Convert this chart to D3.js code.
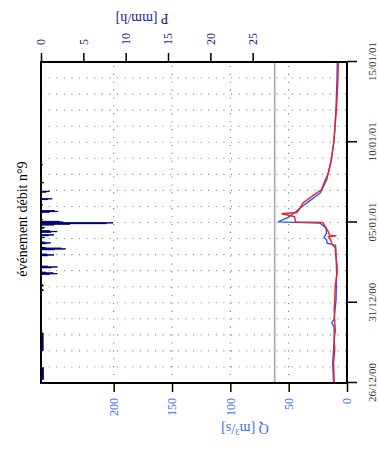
<!DOCTYPE html>
<html><head><meta charset="utf-8">
<script src="https://cdn.jsdelivr.net/npm/d3@7/dist/d3.min.js"></script>
<style>html,body{margin:0;padding:0;background:#fff;} svg{display:block}</style>
</head><body>
<svg id="c" width="378" height="454"></svg>
<script>
// ---------- data ----------
const titleText = "événement débit n°9";
const startDate = new Date(2000, 11, 26);
const endDate = new Date(2001, 0, 15);
const dateTickLabels = ["26/12/00", "31/12/00", "05/01/01", "10/01/01", "15/01/01"];
const qTicks = [0, 50, 100, 150, 200];
const pTicks = [0, 5, 10, 15, 20, 25];
const qMax = 262.3;
const pMax = 36.14;
const qThreshold = 62;

// rainfall (hours since 26/12/00 00:00, mm/h)
const pHours = [5,6,7,8,9,10,11,12,13,14,15,16,17,18,19,20,21,22,
  48,49,50,51,52,53,54,55,56,57,58,59,60,61,62,63,64,65,66,67,68,69,70,71,72,73,74,
  138,139,145,146,162,163,164,165,172,173,174,190,191,192,199,200,201,202,
  208,209,210,217,220,221,225,226,227,231,232,236,237,238,239,240,241,244,
  255,256,257,266,274,275,285,286,299,326];
const pValues = [0.3,0.3,0.3,0.3,0.3,0.3,0.3,0.3,0.3,0.3,0.3,0.3,0.3,0.3,0.3,0.3,0.3,0.3,
  0.25,0.25,0.25,0.25,0.25,0.25,0.25,0.25,0.25,0.25,0.25,0.25,0.25,0.25,0.25,0.25,0.25,0.25,0.25,0.25,0.25,0.25,0.25,0.25,0.25,0.25,0.25,
  0.3,0.2,0.3,0.2,1.0,1.9,1.4,0.6,1.2,1.9,0.8,0.8,1.5,0.7,1.6,2.9,2.4,0.5,
  0.6,1.1,0.4,0.4,0.9,1.5,1.2,1.9,1.0,0.3,0.4,1.5,3.4,7.7,8.5,2.6,2.2,0.2,
  1.0,2.0,1.6,0.2,0.8,1.3,0.6,1.0,0.3,0.2];

// observed discharge (hours, m3/s)
const qObsHours = [0,30,64,84,90,96,124,164,194,206,209,214,218,224,232,236,239,241,248,256,266,275,284,304,314,333,363,413,453,480];
const qObsValues = [11.5,12.3,11,11,13,11,9.4,8.9,9.4,9.8,17,17.5,19.7,17.5,18,21,23,59,50,44,37,30,23,17.4,16,13.5,11.1,9.4,8.6,8.3];

// simulated discharge (hours, m3/s)
const qSimHours = [0,30,50,64,79,91,109,124,147,164,176,191,202,208,214,219,220,221,226,232,238,240,241,249,253,255,262,269,278,289,304,314,333,363,413,453,480];
const qSimValues = [11,11.5,10.5,11,10,10.5,11,10.5,10,8.5,8.5,9.7,10,13,14,16,9,15,16,18,20,21,44,45,56,43,40,38,31,22,18.5,16,13.5,11.1,8.9,7.8,7.4];

// ---------- drawing ----------
const W = 378, H = 454;
const serif = "'Liberation Serif','Times New Roman',serif";
const svg = d3.select("#c");
// whole chart drawn in its original orientation, then rotated -90deg
const g = svg.append("g").attr("transform", `translate(0,${H}) rotate(-90)`);
const pl = 71, pr = 392, pt = 41, pb = 347;

const hourToDate = h => new Date(startDate.getTime() + h * 3600e3);
const x = d3.scaleTime().domain([startDate, endDate]).range([pl, pr]);
const yQ = d3.scaleLinear().domain([0, qMax]).range([pb, pt]);
const yP = d3.scaleLinear().domain([0, pMax]).range([pt, pb]);

// daily grid
const days = d3.timeDay.range(d3.timeDay.offset(startDate, 1), endDate);
g.append("g").selectAll("line").data(days).join("line")
  .attr("x1", d => x(d)).attr("x2", d => x(d))
  .attr("y1", pt).attr("y2", pb)
  .attr("stroke", "#8a8a8a").attr("stroke-width", 1.1)
  .attr("stroke-dasharray", "1.1,6.5");

// Q grid
g.append("g").selectAll("line").data(qTicks.filter(q => q > 0)).join("line")
  .attr("x1", pl).attr("x2", pr)
  .attr("y1", d => yQ(d)).attr("y2", d => yQ(d))
  .attr("stroke", "#3f78ff").attr("stroke-width", 1.1)
  .attr("stroke-dasharray", "1.1,6.8");

// threshold
g.append("line")
  .attr("x1", pl).attr("x2", pr)
  .attr("y1", yQ(qThreshold)).attr("y2", yQ(qThreshold))
  .attr("stroke", "#a8a8a8").attr("stroke-width", 1.6);

// rain bars
g.append("g").selectAll("rect").data(pHours.map((h, i) => ({h, v: pValues[i]}))).join("rect")
  .attr("x", d => x(hourToDate(d.h)))
  .attr("width", d => x(hourToDate(d.h + 1)) - x(hourToDate(d.h)))
  .attr("y", yP(0))
  .attr("height", d => yP(d.v) - yP(0))
  .attr("fill", "#00007a").attr("stroke", "#00007a").attr("stroke-width", 0.6);

// discharge lines
const line = d3.line().x(d => x(hourToDate(d[0]))).y(d => yQ(d[1]));
g.append("path").datum(qObsHours.map((h, i) => [h, qObsValues[i]]))
  .attr("d", line).attr("fill", "none").attr("stroke", "#1f5cff").attr("stroke-width", 1.4);
g.append("path").datum(qSimHours.map((h, i) => [h, qSimValues[i]]))
  .attr("d", line).attr("fill", "none").attr("stroke", "#ff1a1a").attr("stroke-width", 1.4);

// frame
g.append("rect").attr("x", pl).attr("y", pt)
  .attr("width", pr - pl).attr("height", pb - pt)
  .attr("fill", "none").attr("stroke", "#000").attr("stroke-width", 2);

// time axis (bottom in original orientation)
const dateTicks = dateTickLabels.map(s => d3.timeParse("%d/%m/%y")(s));
const ax = g.append("g").attr("transform", `translate(0,${pb})`)
  .call(d3.axisBottom(x).tickValues(dateTicks).tickFormat(d3.timeFormat("%d/%m/%y")).tickSize(10).tickSizeOuter(0));
ax.select(".domain").remove();
ax.selectAll(".tick line").attr("stroke", "#000").attr("stroke-width", 1.5);
ax.selectAll("text").attr("y", 29).attr("dy", 0)
  .attr("font-family", serif).attr("font-size", 11).attr("fill", "#333");

// Q axis (left)
const aq = g.append("g").attr("transform", `translate(${pl},0)`)
  .call(d3.axisLeft(yQ).tickValues(qTicks).tickSize(9).tickPadding(6).tickSizeOuter(0));
aq.select(".domain").remove();
aq.selectAll(".tick line").attr("stroke", "#000").attr("stroke-width", 1.5);
aq.selectAll("text").attr("font-family", serif).attr("font-size", 12).attr("fill", "#3a6cff");

// P axis (right)
const ap = g.append("g").attr("transform", `translate(${pr},0)`)
  .call(d3.axisRight(yP).tickValues(pTicks).tickSize(9).tickPadding(8).tickSizeOuter(0));
ap.select(".domain").remove();
ap.selectAll(".tick line").attr("stroke", "#000").attr("stroke-width", 1.5);
ap.selectAll("text").attr("font-family", serif).attr("font-size", 12).attr("fill", "#1c1c8f");

// axis titles
const qt = g.append("text").attr("transform", "translate(30,245) rotate(-90)")
  .attr("text-anchor", "middle").attr("font-family", serif).attr("font-size", 14).attr("fill", "#3a6cff");
qt.append("tspan").text("Q [m");
qt.append("tspan").attr("font-size", 9).attr("dy", -5).text("3");
qt.append("tspan").attr("dy", 5).text("/s]");

g.append("text").attr("transform", "translate(440.5,142) rotate(-90)")
  .attr("text-anchor", "middle").attr("font-family", serif).attr("font-size", 14).attr("fill", "#1c1c8f")
  .text("P [mm/h]");

// title
g.append("text").attr("x", 235).attr("y", 27).attr("text-anchor", "middle")
  .attr("font-family", serif).attr("font-size", 14).attr("fill", "#000")
  .text(titleText);
</script>
</body></html>
